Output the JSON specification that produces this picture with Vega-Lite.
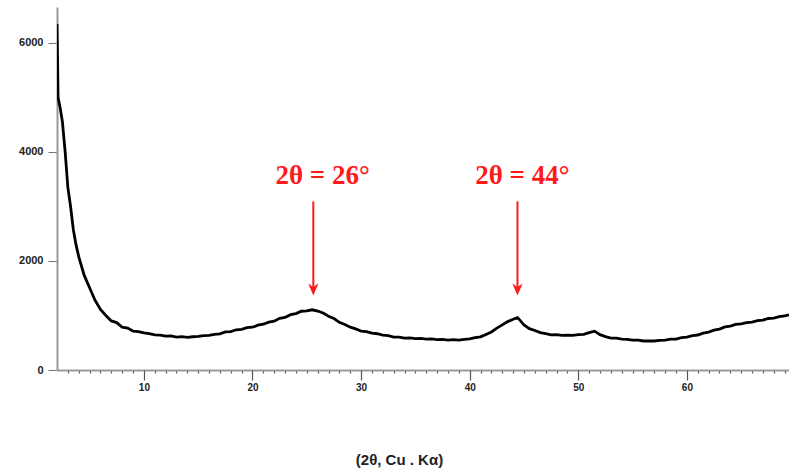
{
  "$schema": "https://vega.github.io/schema/vega-lite/v6.json",
  "autosize": {"type": "none"},
  "width": 732,
  "height": 363,
  "padding": {"left": 57, "top": 7, "right": 0, "bottom": 102},
  "background": "white",
  "config": {"view": {"stroke": null}},
  "datasets": {
    "xrd": [
      {"x": 2.0, "v": 6350}, {"x": 2.05, "v": 5700}, {"x": 2.1, "v": 5000}, {"x": 2.3, "v": 4800},
      {"x": 2.5, "v": 4550}, {"x": 2.75, "v": 4000}, {"x": 3.0, "v": 3350}, {"x": 3.25, "v": 3000},
      {"x": 3.5, "v": 2580}, {"x": 3.75, "v": 2300}, {"x": 4.0, "v": 2080}, {"x": 4.5, "v": 1740},
      {"x": 5.0, "v": 1510}, {"x": 5.5, "v": 1280}, {"x": 6.0, "v": 1110}, {"x": 6.5, "v": 1000},
      {"x": 7.0, "v": 900}, {"x": 7.5, "v": 870}, {"x": 8.0, "v": 785}, {"x": 8.5, "v": 770},
      {"x": 9.0, "v": 715}, {"x": 9.5, "v": 705}, {"x": 10.0, "v": 680}, {"x": 10.5, "v": 668},
      {"x": 11.0, "v": 645}, {"x": 11.5, "v": 640}, {"x": 12.0, "v": 622}, {"x": 12.5, "v": 625},
      {"x": 13.0, "v": 605}, {"x": 13.5, "v": 612}, {"x": 14.0, "v": 598}, {"x": 14.5, "v": 610},
      {"x": 15.0, "v": 615}, {"x": 15.5, "v": 632}, {"x": 16.0, "v": 636}, {"x": 16.5, "v": 655},
      {"x": 17.0, "v": 662}, {"x": 17.5, "v": 698}, {"x": 18.0, "v": 705}, {"x": 18.5, "v": 738},
      {"x": 19.0, "v": 745}, {"x": 19.5, "v": 778}, {"x": 20.0, "v": 785}, {"x": 20.5, "v": 822},
      {"x": 21.0, "v": 840}, {"x": 21.5, "v": 878}, {"x": 22.0, "v": 895}, {"x": 22.5, "v": 948},
      {"x": 23.0, "v": 965}, {"x": 23.5, "v": 1015}, {"x": 24.0, "v": 1035}, {"x": 24.5, "v": 1078},
      {"x": 25.0, "v": 1085}, {"x": 25.5, "v": 1105}, {"x": 26.0, "v": 1082}, {"x": 26.5, "v": 1045},
      {"x": 27.0, "v": 985}, {"x": 27.5, "v": 945}, {"x": 28.0, "v": 875}, {"x": 28.5, "v": 835},
      {"x": 29.0, "v": 785}, {"x": 29.5, "v": 755}, {"x": 30.0, "v": 715}, {"x": 30.5, "v": 705},
      {"x": 31.0, "v": 675}, {"x": 31.5, "v": 665}, {"x": 32.0, "v": 640}, {"x": 32.5, "v": 630},
      {"x": 33.0, "v": 605}, {"x": 33.5, "v": 603}, {"x": 34.0, "v": 585}, {"x": 34.5, "v": 590},
      {"x": 35.0, "v": 576}, {"x": 35.5, "v": 580}, {"x": 36.0, "v": 566}, {"x": 36.5, "v": 570},
      {"x": 37.0, "v": 556}, {"x": 37.5, "v": 560}, {"x": 38.0, "v": 550}, {"x": 38.5, "v": 556},
      {"x": 39.0, "v": 548}, {"x": 39.5, "v": 563}, {"x": 40.0, "v": 570}, {"x": 40.5, "v": 594},
      {"x": 41.0, "v": 608}, {"x": 41.5, "v": 652}, {"x": 42.0, "v": 698}, {"x": 42.5, "v": 768},
      {"x": 43.0, "v": 828}, {"x": 43.5, "v": 888}, {"x": 44.0, "v": 932}, {"x": 44.4, "v": 962},
      {"x": 44.7, "v": 898}, {"x": 45.0, "v": 825}, {"x": 45.5, "v": 758}, {"x": 46.0, "v": 724},
      {"x": 46.5, "v": 686}, {"x": 47.0, "v": 668}, {"x": 47.5, "v": 646}, {"x": 48.0, "v": 648},
      {"x": 48.5, "v": 636}, {"x": 49.0, "v": 640}, {"x": 49.5, "v": 635}, {"x": 50.0, "v": 650},
      {"x": 50.5, "v": 655}, {"x": 51.0, "v": 684}, {"x": 51.5, "v": 712}, {"x": 52.0, "v": 648},
      {"x": 52.5, "v": 612}, {"x": 53.0, "v": 586}, {"x": 53.5, "v": 583}, {"x": 54.0, "v": 566},
      {"x": 54.5, "v": 563}, {"x": 55.0, "v": 548}, {"x": 55.5, "v": 548}, {"x": 56.0, "v": 532},
      {"x": 56.5, "v": 534}, {"x": 57.0, "v": 532}, {"x": 57.5, "v": 545}, {"x": 58.0, "v": 548},
      {"x": 58.5, "v": 565}, {"x": 59.0, "v": 568}, {"x": 59.5, "v": 594}, {"x": 60.0, "v": 604},
      {"x": 60.5, "v": 630}, {"x": 61.0, "v": 642}, {"x": 61.5, "v": 675}, {"x": 62.0, "v": 696},
      {"x": 62.5, "v": 730}, {"x": 63.0, "v": 750}, {"x": 63.5, "v": 790}, {"x": 64.0, "v": 805},
      {"x": 64.5, "v": 836}, {"x": 65.0, "v": 846}, {"x": 65.5, "v": 870}, {"x": 66.0, "v": 880},
      {"x": 66.5, "v": 906}, {"x": 67.0, "v": 916}, {"x": 67.5, "v": 945}, {"x": 68.0, "v": 952},
      {"x": 68.5, "v": 980}, {"x": 69.0, "v": 992}, {"x": 69.4, "v": 1012}
    ],
    "labels": [
      {"x": 26.45, "v": 3551, "label": "2θ = 26°"},
      {"x": 44.85, "v": 3551, "label": "2θ = 44°"}
    ],
    "arrows": [
      {"x": 25.6, "top": 3093, "bottom": 1475},
      {"x": 44.4, "top": 3093, "bottom": 1475}
    ]
  },
  "resolve": {"axis": {"x": "independent"}},
  "layer": [
    {
      "data": {"name": "xrd"},
      "mark": {"type": "line", "color": "#000000", "strokeWidth": 2.8, "clip": true},
      "encoding": {
        "x": {
          "field": "x", "type": "quantitative",
          "scale": {"domain": [2, 69.4], "nice": false, "zero": false},
          "axis": {
            "orient": "bottom",
            "values": [3,4,5,6,7,8,9,11,12,13,14,15,16,17,18,19,21,22,23,24,25,26,27,28,29,31,32,33,34,35,36,37,38,39,41,42,43,44,45,46,47,48,49,51,52,53,54,55,56,57,58,59,61,62,63,64,65,66,67,68,69],
            "labels": false,
            "grid": false,
            "tickSize": 3,
            "tickColor": "#555555",
            "tickWidth": 1.2,
            "domainColor": "#999999",
            "domainWidth": 2,
            "title": null
          }
        },
        "y": {
          "field": "v", "type": "quantitative",
          "scale": {"domain": [0, 6660], "nice": false, "zero": true},
          "axis": {
            "values": [0, 2000, 4000, 6000],
            "format": "d",
            "grid": false,
            "tickSize": 9,
            "tickColor": "#777777",
            "domainColor": "#999999",
            "domainWidth": 2,
            "labelFont": "Liberation Sans",
            "labelFontSize": 11,
            "labelFontWeight": "bold",
            "labelColor": "#222222",
            "labelPadding": 5,
            "title": null
          }
        }
      }
    },
    {
      "data": {"name": "arrows"},
      "mark": {"type": "rule", "color": "#ff1a1a", "strokeWidth": 2},
      "encoding": {
        "x": {
          "field": "x", "type": "quantitative",
          "scale": {"domain": [2, 69.4], "nice": false, "zero": false},
          "axis": {
            "orient": "bottom",
            "values": [10, 20, 30, 40, 50, 60],
            "format": "d",
            "grid": false,
            "domain": false,
            "tickSize": 10,
            "tickColor": "#555555",
            "tickWidth": 1.2,
            "labelFont": "Liberation Sans",
            "labelFontSize": 10,
            "labelFontWeight": "bold",
            "labelColor": "#222222",
            "labelPadding": 2,
            "title": "(2θ, Cu . Kα)",
            "titleFont": "Liberation Sans",
            "titleFontSize": 15,
            "titleFontWeight": "bold",
            "titleColor": "#222222",
            "titleX": 342,
            "titleY": 89,
            "titleAlign": "center",
            "titleBaseline": "middle"
          }
        },
        "y": {"field": "top", "type": "quantitative"},
        "y2": {"field": "bottom"}
      }
    },
    {
      "data": {"name": "arrows"},
      "mark": {"type": "point", "shape": "M -0.85 -1 L 0 -0.45 L 0.85 -1 L 0 1 Z", "filled": true, "color": "#ff1a1a", "opacity": 1, "size": 144},
      "encoding": {
        "x": {"field": "x", "type": "quantitative", "axis": null},
        "y": {"field": "bottom", "type": "quantitative"}
      }
    },
    {
      "data": {"name": "labels"},
      "mark": {"type": "text", "font": "Liberation Serif", "fontWeight": "bold", "fontSize": 27, "color": "#ff1a1a", "align": "center", "baseline": "middle"},
      "encoding": {
        "x": {"field": "x", "type": "quantitative", "axis": null},
        "y": {"field": "v", "type": "quantitative"},
        "text": {"field": "label"}
      }
    }
  ]
}
